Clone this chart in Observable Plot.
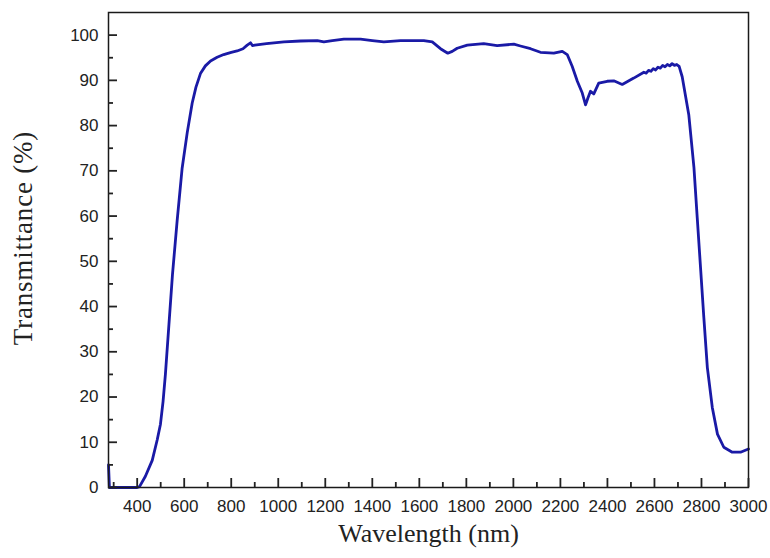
<!DOCTYPE html>
<html>
<head>
<meta charset="utf-8">
<script src="https://cdn.jsdelivr.net/npm/d3@7"></script>
<script src="https://cdn.jsdelivr.net/npm/@observablehq/plot@0.6"></script>
<style>
  html, body { margin: 0; padding: 0; background: #fff; }
  #chart svg { display: block; }
</style>
</head>
<body>
<div id="chart"></div>
<script>
const wavelength = [278, 282, 400, 410, 435, 464, 485, 499, 510, 520, 535, 550, 570, 591, 613, 634, 650, 669, 690, 712, 740, 768, 800, 825, 850, 868, 882, 890, 900, 950, 1024, 1095, 1166, 1194, 1230, 1279, 1350, 1400, 1449, 1520, 1619, 1655, 1690, 1721, 1740, 1761, 1804, 1874, 1931, 2002, 2030, 2073, 2115, 2172, 2208, 2229, 2250, 2272, 2293, 2307, 2317, 2328, 2342, 2363, 2399, 2427, 2463, 2512, 2555, 2565, 2575, 2585, 2595, 2605, 2615, 2625, 2635, 2645, 2655, 2665, 2675, 2685, 2695, 2705, 2718, 2746, 2768, 2782, 2796, 2810, 2825, 2846, 2868, 2895, 2931, 2966, 3000];
const transmittance = [5.0, 0, 0, 0.2, 2.5, 6, 10.5, 14, 19, 25, 36, 47, 59, 70.5, 78.5, 85, 88.5, 91.5, 93.2, 94.3, 95.1, 95.7, 96.2, 96.5, 97.0, 97.8, 98.3, 97.7, 97.8, 98.1, 98.5, 98.7, 98.8, 98.5, 98.8, 99.1, 99.1, 98.8, 98.5, 98.8, 98.8, 98.5, 97.0, 96.0, 96.4, 97.1, 97.8, 98.1, 97.7, 98.0, 97.6, 97.0, 96.2, 96.0, 96.4, 95.7, 93.1, 89.8, 87.2, 84.6, 86.1, 87.6, 87.0, 89.4, 89.8, 89.9, 89.1, 90.5, 91.8, 91.6, 92.2, 92.0, 92.6, 92.3, 92.9, 92.7, 93.3, 93.0, 93.5, 93.2, 93.7, 93.3, 93.5, 93.1, 90.8, 82.4, 70.7, 59.6, 48.6, 37.6, 26.5, 17.7, 11.8, 8.9, 7.8, 7.8, 8.5];

const xMajor = [400, 600, 800, 1000, 1200, 1400, 1600, 1800, 2000, 2200, 2400, 2600, 2800, 3000];
const xMinor = [300, 500, 700, 900, 1100, 1300, 1500, 1700, 1900, 2100, 2300, 2500, 2700, 2900];
const yMajor = [0, 10, 20, 30, 40, 50, 60, 70, 80, 90, 100];
const yMinor = [5, 15, 25, 35, 45, 55, 65, 75, 85, 95];

const xTitle = "Wavelength (nm)";
const yTitle = "Transmittance (%)";

const data = wavelength.map((w, i) => ({w, t: transmittance[i]}));

const W = 770, H = 558;
const mL = 108, mR = 22, mT = 12, mB = 71;
const frameW = W - mL - mR, frameH = H - mT - mB;
const xDomain = [278, 3000];
const yDomain = [0, 105];

// pixel lengths of inward ticks, converted to data units along the other axis
const pxToY = px => px * (yDomain[1] - yDomain[0]) / frameH;
const pxToX = px => px * (xDomain[1] - xDomain[0]) / frameW;

const serif = "Liberation Serif, Times New Roman, serif";
const tickColor = "#222";

const chart = Plot.plot({
  width: W,
  height: H,
  marginLeft: mL,
  marginRight: mR,
  marginTop: mT,
  marginBottom: mB,
  style: {fontFamily: "Arial", color: "#222", background: "#fff"},
  x: {domain: xDomain},
  y: {domain: yDomain},
  marks: [
    Plot.axisX(xMajor, {anchor: "bottom", tickSize: 0, tickPadding: 12, fontSize: 17, label: null, fill: "#222", tickFormat: d => String(d)}),
    Plot.axisY(yMajor, {anchor: "left", tickSize: 0, tickPadding: 10, fontSize: 17, label: null, fill: "#222", tickFormat: d => String(d)}),
    Plot.line(data, {x: "w", y: "t", stroke: "#1a1aa6", strokeWidth: 2.8}),
    Plot.frame({stroke: "#1a1a1a", strokeWidth: 1.5}),
    Plot.ruleX(xMajor, {x: d => d, y1: yDomain[0], y2: yDomain[0] + pxToY(9), stroke: tickColor, strokeWidth: 1.8}),
    Plot.ruleX(xMinor, {x: d => d, y1: yDomain[0], y2: yDomain[0] + pxToY(5), stroke: tickColor, strokeWidth: 1.8}),
    Plot.ruleY(yMajor, {y: d => d, x1: xDomain[0], x2: xDomain[0] + pxToX(9), stroke: tickColor, strokeWidth: 1.8}),
    Plot.ruleY(yMinor, {y: d => d, x1: xDomain[0], x2: xDomain[0] + pxToX(5), stroke: tickColor, strokeWidth: 1.8}),
    Plot.text([xTitle], {frameAnchor: "bottom", dy: 54, fontSize: 26, fontFamily: serif, fill: "#222", textAnchor: "middle"}),
    Plot.text([yTitle], {frameAnchor: "left", dx: -85, dy: -12, rotate: -90, fontSize: 27, fontFamily: serif, fill: "#222", textAnchor: "middle"})
  ]
});

document.getElementById("chart").appendChild(chart);

d3.select(chart).selectAll("text").each(function() {
  if (this.textContent === yTitle) this.setAttribute("letter-spacing", "0.8px");
});
</script>
</body>
</html>
